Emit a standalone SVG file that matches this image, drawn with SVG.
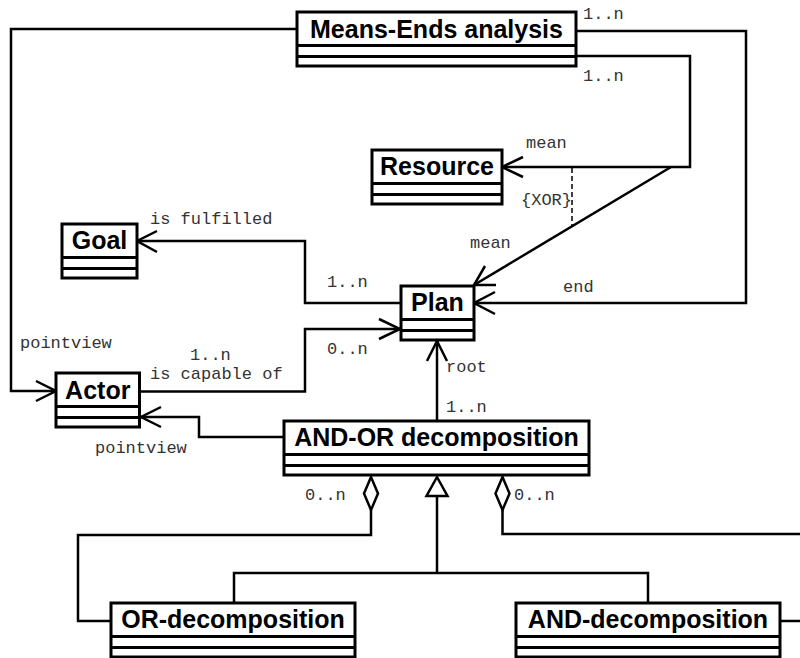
<svg xmlns="http://www.w3.org/2000/svg" width="800" height="658" viewBox="0 0 800 658">
<style>
.box{fill:#fff;stroke:#000;stroke-width:3}
.div{stroke:#000;stroke-width:3}
.nm{font-family:"Liberation Sans",Arial,sans-serif;font-weight:bold;font-size:25px;fill:#000;text-anchor:middle}
.lb{font-family:"Liberation Mono","Courier New",monospace;font-size:17px;fill:#333}
.ln{fill:none;stroke:#000;stroke-width:2.5}
.dash{fill:none;stroke:#000;stroke-width:1.5;stroke-dasharray:5,3}
.hollow{fill:#fff;stroke:#000;stroke-width:2.5}
</style>
<rect width="800" height="658" fill="#fff"/>
<g id="connectors">
<polyline class="ln" points="297,29 11,29 11,391 56,391"/>
<polyline class="ln" points="36,381 56,391 36,401"/>
<polyline class="ln" points="576,31 746,31 746,303 474,303"/>
<polyline class="ln" points="495,292 474,303 495,314"/>
<polyline class="ln" points="576,56 690,56 690,167 502,167"/>
<polyline class="ln" points="523,157 502,167 523,177"/>
<line class="ln" x1="671" y1="167" x2="474" y2="285"/>
<polyline class="ln" points="485,266 474,285 496,285"/>
<line class="dash" x1="572" y1="168" x2="572" y2="226"/>
<polyline class="ln" points="401,303 305,303 305,241 137,241"/>
<polyline class="ln" points="157,231 137,241 157,252"/>
<polyline class="ln" points="139.5,391.5 305,391.5 305,329 401,329"/>
<polyline class="ln" points="379,319 400,329 379,339"/>
<line class="ln" x1="437" y1="421" x2="437" y2="341"/>
<polyline class="ln" points="427,361 437,341 447,361"/>
<polyline class="ln" points="284,437 199,437 199,417 140,417"/>
<polyline class="ln" points="161,407 141,417 161,427"/>
<polyline class="ln" points="371,510 371,535 78,535 78,621 111,621"/>
<polygon class="hollow" points="371,477 378,493.5 371,510 364,493.5"/>
<polyline class="ln" points="502.5,510 502.5,534 812,534 812,621 780,621"/>
<polygon class="hollow" points="502.5,477 509.5,493.5 502.5,510 495.5,493.5"/>
<polyline class="ln" points="437,496 437,573"/>
<polyline class="ln" points="234,603 234,573 648,573 648,603"/>
<polygon class="hollow" points="437,477 447.5,496 426.5,496"/>
</g>
<g id="means-ends">
<rect class="box" x="297" y="12" width="279" height="54"/>
<line class="div" x1="297" y1="45.5" x2="576" y2="45.5"/>
<line class="div" x1="297" y1="56.5" x2="576" y2="56.5"/>
<text class="nm" x="436.5" y="38">Means-Ends analysis</text>
</g>
<g id="resource">
<rect class="box" x="372" y="150" width="130" height="54"/>
<line class="div" x1="372" y1="183.5" x2="502" y2="183.5"/>
<line class="div" x1="372" y1="194.5" x2="502" y2="194.5"/>
<text class="nm" x="437" y="175">Resource</text>
</g>
<g id="goal">
<rect class="box" x="62" y="224" width="75" height="54"/>
<line class="div" x1="62" y1="257.5" x2="137" y2="257.5"/>
<line class="div" x1="62" y1="268.5" x2="137" y2="268.5"/>
<text class="nm" x="99.5" y="249">Goal</text>
</g>
<g id="plan">
<rect class="box" x="401" y="286" width="73" height="54"/>
<line class="div" x1="401" y1="319.5" x2="474" y2="319.5"/>
<line class="div" x1="401" y1="330.5" x2="474" y2="330.5"/>
<text class="nm" x="437.5" y="311">Plan</text>
</g>
<g id="actor">
<rect class="box" x="56" y="373" width="83.5" height="54"/>
<line class="div" x1="56" y1="406.5" x2="139.5" y2="406.5"/>
<line class="div" x1="56" y1="417.5" x2="139.5" y2="417.5"/>
<text class="nm" x="97.75" y="399">Actor</text>
</g>
<g id="and-or">
<rect class="box" x="284" y="421" width="305" height="54"/>
<line class="div" x1="284" y1="454.5" x2="589" y2="454.5"/>
<line class="div" x1="284" y1="465.5" x2="589" y2="465.5"/>
<text class="nm" x="436.5" y="446">AND-OR decomposition</text>
</g>
<g id="or-decomposition">
<rect class="box" x="111" y="603" width="244" height="54"/>
<line class="div" x1="111" y1="636.5" x2="355" y2="636.5"/>
<line class="div" x1="111" y1="647.5" x2="355" y2="647.5"/>
<text class="nm" x="233" y="628">OR-decomposition</text>
</g>
<g id="and-decomposition">
<rect class="box" x="516" y="603" width="264" height="54"/>
<line class="div" x1="516" y1="636.5" x2="780" y2="636.5"/>
<line class="div" x1="516" y1="647.5" x2="780" y2="647.5"/>
<text class="nm" x="648" y="628">AND-decomposition</text>
</g>
<g id="labels">
<text class="lb" x="583" y="19">1..n</text>
<text class="lb" x="583" y="81">1..n</text>
<text class="lb" x="526" y="148">mean</text>
<text class="lb" x="521" y="205">{XOR}</text>
<text class="lb" x="150" y="224">is fulfilled</text>
<text class="lb" x="470" y="248">mean</text>
<text class="lb" x="327" y="287">1..n</text>
<text class="lb" x="563" y="292">end</text>
<text class="lb" x="20" y="348">pointview</text>
<text class="lb" x="327" y="354">0..n</text>
<text class="lb" x="190" y="360">1..n</text>
<text class="lb" x="150" y="379">is capable of</text>
<text class="lb" x="446" y="372">root</text>
<text class="lb" x="446" y="412">1..n</text>
<text class="lb" x="95" y="453">pointview</text>
<text class="lb" x="305" y="500">0..n</text>
<text class="lb" x="514" y="500">0..n</text>
</g>
</svg>
